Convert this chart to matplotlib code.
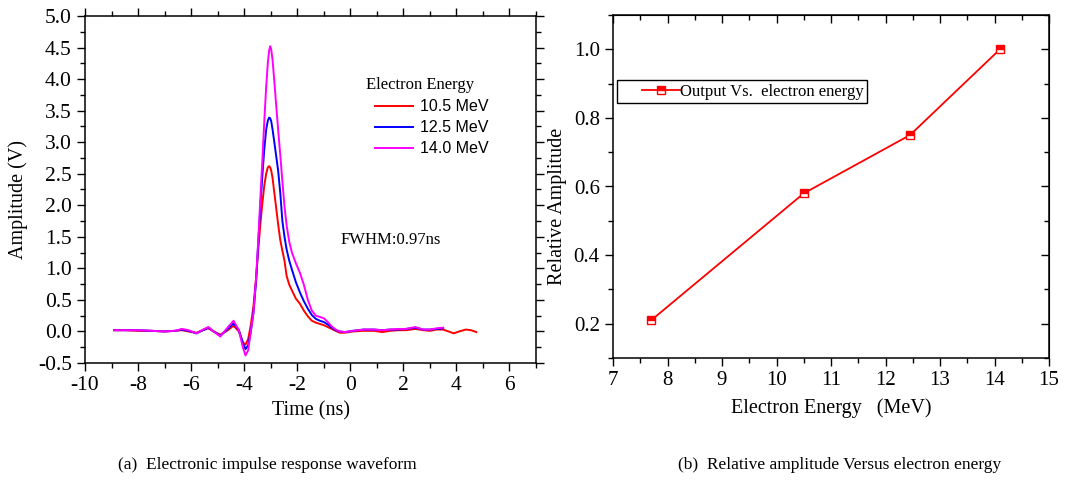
import matplotlib
matplotlib.use("Agg")
import matplotlib.pyplot as plt
from matplotlib.ticker import MultipleLocator, FormatStrFormatter
from matplotlib.legend_handler import HandlerLine2D
from matplotlib.lines import Line2D

plt.rcParams['font.family'] = ['Liberation Serif', 'DejaVu Serif']
plt.rcParams['axes.unicode_minus'] = False

# ---------------- data (a) ----------------
time_ns = [-8.9, -8.5, -8.0, -7.5, -7.0, -6.6, -6.35, -6.1, -5.8, -5.55, -5.35, -5.15,
           -4.9, -4.65, -4.4, -4.2, -4.05, -3.95, -3.85, -3.75, -3.65, -3.55,
           -3.45, -3.38, -3.31, -3.24, -3.17, -3.11, -3.06, -3.02, -2.98, -2.93, -2.87,
           -2.8, -2.72, -2.64, -2.56, -2.48, -2.4, -2.3, -2.2,
           -2.05, -1.9, -1.75, -1.6, -1.45, -1.3, -1.15, -1.0, -0.85, -0.7,
           -0.55, -0.4, -0.2, 0.1, 0.5, 0.9, 1.2, 1.5, 1.8, 2.1, 2.45, 2.75, 3.0, 3.25,
           3.5, 3.7, 3.9, 4.1, 4.35, 4.55, 4.75]

amp_10_5 = [0.02, 0.02, 0.01, 0.01, 0.0, 0.01, 0.02, 0.0, -0.02, 0.02, 0.05, 0.0,
            -0.05, 0.01, 0.09, 0.0, -0.17, -0.21, -0.12, 0.1, 0.4, 0.85,
            1.4, 1.75, 2.05, 2.32, 2.5, 2.6, 2.62, 2.6, 2.55, 2.43, 2.22,
            1.98, 1.7, 1.45, 1.28, 1.12, 0.88, 0.74, 0.65,
            0.52, 0.44, 0.33, 0.24, 0.17, 0.14, 0.12, 0.1, 0.07, 0.04,
            0.01, -0.02, -0.02, 0.0, 0.01, 0.01, -0.01, 0.01, 0.02, 0.02, 0.04, 0.02, 0.01, 0.03,
            0.03, 0.0, -0.03, 0.0, 0.03, 0.02, -0.01]

amp_12_5 = [0.02, 0.02, 0.02, 0.01, 0.0, 0.01, 0.03, 0.01, -0.03, 0.02, 0.06, 0.0,
            -0.07, 0.03, 0.13, 0.02, -0.18, -0.28, -0.22, 0.0, 0.3, 0.8,
            1.55, 2.05, 2.5, 2.9, 3.2, 3.34, 3.39, 3.38, 3.33, 3.2, 3.02,
            2.8, 2.55, 2.2, 1.75, 1.5, 1.3, 1.12, 0.98,
            0.78, 0.62, 0.48, 0.36, 0.26, 0.2, 0.17, 0.15, 0.11, 0.06,
            0.02, 0.0, -0.01, 0.01, 0.03, 0.03, 0.02, 0.03, 0.03, 0.04, 0.06, 0.03, 0.03, 0.04,
            0.05]

amp_14_0 = [0.02, 0.02, 0.02, 0.01, 0.0, 0.01, 0.04, 0.02, -0.03, 0.03, 0.07, 0.0,
            -0.08, 0.05, 0.17, 0.02, -0.25, -0.38, -0.30, 0.0, 0.3, 0.85,
            1.6, 2.2, 2.75, 3.35, 3.88, 4.25, 4.45, 4.52, 4.47, 4.3, 4.0,
            3.62, 3.2, 2.8, 2.38, 1.98, 1.68, 1.42, 1.25,
            1.08, 0.93, 0.74, 0.5, 0.33, 0.25, 0.23, 0.21, 0.15, 0.08,
            0.03, 0.0, -0.01, 0.01, 0.03, 0.03, 0.02, 0.03, 0.04, 0.04, 0.07, 0.03, 0.03, 0.05,
            0.06]

series_labels = ['10.5 MeV', '12.5 MeV', '14.0 MeV']

# ---------------- data (b) ----------------
energy_mev = [7.7, 10.5, 12.45, 14.1]
rel_amp = [0.21, 0.58, 0.75, 1.0]

W, H = 1074, 486
fig = plt.figure(figsize=(W / 100, H / 100), dpi=100)

ax1 = fig.add_axes([85 / W, 1 - 363 / H, (536 - 85) / W, (363 - 16) / H])
ax2 = fig.add_axes([613 / W, 1 - 358 / H, (1049 - 613) / W, (358 - 15) / H])

TICK_FS = 15.5
LABEL_FS = 14.5

# ---- panel (a) ----
ax1.plot(time_ns[:len(amp_10_5)], amp_10_5, color='#ff0000', lw=1.4, label=series_labels[0])
ax1.plot(time_ns[:len(amp_12_5)], amp_12_5, color='#0000ff', lw=1.4, label=series_labels[1])
ax1.plot(time_ns[:len(amp_14_0)], amp_14_0, color='#ff00ff', lw=1.4, label=series_labels[2])

ax1.set_xlim(-10, 7)
ax1.set_ylim(-0.5, 5.0)
ax1.xaxis.set_major_locator(MultipleLocator(2))
ax1.xaxis.set_minor_locator(MultipleLocator(1))
ax1.yaxis.set_major_locator(MultipleLocator(0.5))
ax1.yaxis.set_minor_locator(MultipleLocator(0.25))
ax1.yaxis.set_major_formatter(FormatStrFormatter('%.1f'))
ax1.tick_params(which='both', direction='out', top=True, right=True,
                labelsize=TICK_FS, width=1.0, colors='black')
ax1.tick_params(which='major', length=6)
ax1.tick_params(which='minor', length=3.5)
ax1.set_xlabel('Time (ns)', fontsize=LABEL_FS, labelpad=4)
ax1.set_ylabel('Amplitude (V)', fontsize=LABEL_FS)
ax1.yaxis.set_label_coords(-0.126, 0.47)
for s in ax1.spines.values():
    s.set_linewidth(1.1)

leg1 = ax1.legend(loc='upper left', bbox_to_anchor=(0.623, 0.824), frameon=False,
                  title='Electron Energy',
                  title_fontproperties={'family': 'Liberation Serif', 'size': 12},
                  prop={'family': 'Liberation Sans', 'size': 11.5},
                  alignment='left',
                  handlelength=2.94, handletextpad=0.44, labelspacing=0.38,
                  borderpad=0, borderaxespad=0,
                  handler_map={Line2D: HandlerLine2D(xpad=0.56)})

ax1.text(-0.38, 1.45, 'FWHM:0.97ns', fontsize=12, ha='left', va='center')

# ---- panel (b) ----
ax2.plot(energy_mev, rel_amp, color='#ff0000', lw=1.3, marker='s', markersize=6,
         fillstyle='top', markerfacecolor='#ff0000', markerfacecoloralt='white',
         markeredgecolor='#ff0000', markeredgewidth=1.0,
         label='Output Vs.  electron energy')
ax2.set_xlim(7, 15)
ax2.set_ylim(0.1, 1.1)
ax2.xaxis.set_major_locator(MultipleLocator(1))
ax2.xaxis.set_minor_locator(MultipleLocator(0.5))
ax2.yaxis.set_major_locator(MultipleLocator(0.2))
ax2.yaxis.set_minor_locator(MultipleLocator(0.1))
ax2.yaxis.set_major_formatter(FormatStrFormatter('%.1f'))
ax2.tick_params(which='both', direction='out', labelsize=15, width=1.0, colors='black')
ax2.tick_params(which='major', length=6)
ax2.tick_params(which='minor', length=3.5)
ax2.tick_params(which='both', top=False, right=False)
axt = ax2.secondary_xaxis('top')
axt.xaxis.set_major_locator(MultipleLocator(1))
axt.xaxis.set_minor_locator(MultipleLocator(0.5))
axt.tick_params(which='both', direction='in', labeltop=False, width=1.0)
axt.tick_params(which='major', length=6)
axt.tick_params(which='minor', length=3.5)
axr = ax2.secondary_yaxis('right')
axr.yaxis.set_major_locator(MultipleLocator(0.2))
axr.yaxis.set_minor_locator(MultipleLocator(0.1))
axr.tick_params(which='both', direction='in', labelright=False, width=1.0)
axr.tick_params(which='major', length=6)
axr.tick_params(which='minor', length=3.5)
ax2.set_xlabel('Electron Energy   (MeV)', fontsize=LABEL_FS, labelpad=6)
ax2.set_ylabel('Relative Amplitude', fontsize=LABEL_FS)
ax2.yaxis.set_label_coords(-0.105, 0.443)
for s in ax2.spines.values():
    s.set_linewidth(1.1)

leg2 = ax2.legend(loc='upper left', bbox_to_anchor=(0.009, 0.81), frameon=True, fancybox=False,
                  edgecolor='black', framealpha=1, numpoints=1,
                  prop={'family': 'Liberation Serif', 'size': 12},
                  handlelength=3.6, handletextpad=0.0, borderpad=0.2, borderaxespad=0,
                  handler_map={ax2.lines[0]: HandlerLine2D(numpoints=1, xpad=1.3)})
leg2.get_frame().set_linewidth(1.0)

# ---- captions ----
fig.text(267 / W, 1 - 465 / H, '(a)  Electronic impulse response waveform',
         fontsize=12.5, ha='center', va='center')
fig.text(840 / W, 1 - 465 / H, '(b)  Relative amplitude Versus electron energy',
         fontsize=12.5, ha='center', va='center')

fig.savefig('out.png', dpi=100)
